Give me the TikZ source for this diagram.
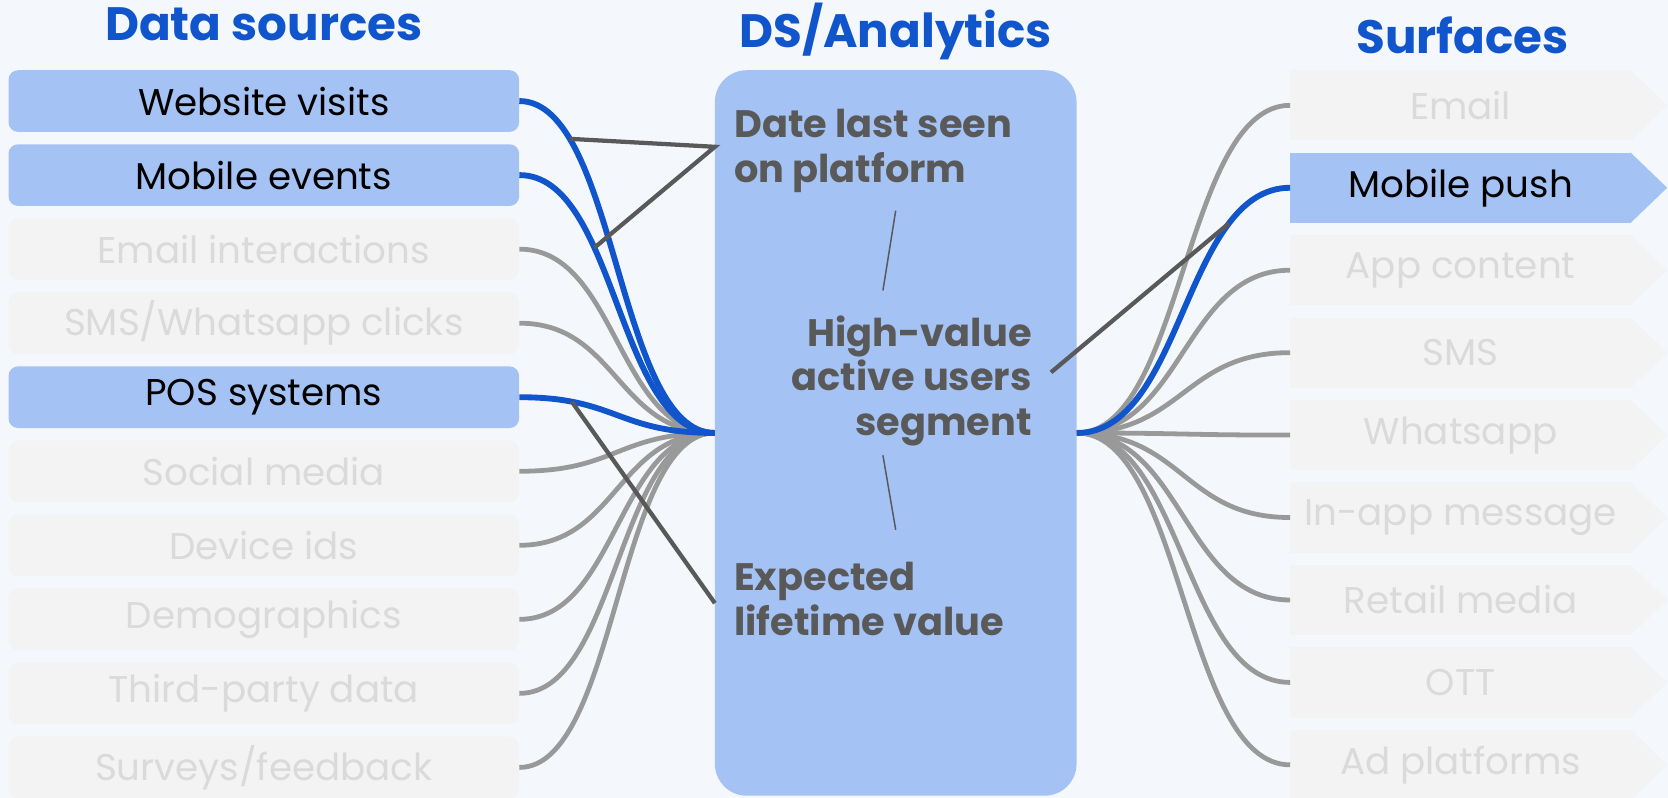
\documentclass[tikz,border=0pt]{standalone}
\usepackage{fontspec}
\setmainfont{Poppins}
\usetikzlibrary{calc}

\definecolor{bgc}{HTML}{F4F8FD}
\definecolor{hl}{HTML}{A4C2F4}
\definecolor{faded}{HTML}{F3F3F3}
\definecolor{fadedtext}{HTML}{DADADA}
\definecolor{accent}{HTML}{1155CC}
\definecolor{wire}{HTML}{999999}
\definecolor{ink}{HTML}{595959}

\tikzset{
  heading/.style={text=accent, font=\fontsize{44}{52}\selectfont\bfseries, inner sep=0pt},
  src/.style={rounded corners=9pt, minimum width=480pt, minimum height=58pt, inner sep=0pt,
              font=\fontsize{35}{40}\selectfont},
  srcon/.style={src, fill=hl, text=black},
  srcoff/.style={src, fill=faded, text=fadedtext},
  surf/.style={minimum width=320pt, minimum height=66pt, inner sep=0pt,
               font=\fontsize{35}{40}\selectfont},
  surfon/.style={surf, fill=hl, text=black},
  surfoff/.style={surf, fill=faded, text=fadedtext},
  core/.style={fill=hl, rounded corners=30pt, minimum width=340pt, minimum height=682pt, inner sep=0pt},
  feature/.style={text=ink, font=\fontsize{36}{42}\selectfont\bfseries, inner sep=0pt},
  graywire/.style={draw=wire, line width=4.5pt},
  bluewire/.style={draw=accent, line width=5.5pt},
  callout/.style={draw=ink, line width=4pt},
  hairline/.style={draw=ink, line width=1.4pt},
}

\begin{document}
\begin{tikzpicture}[x=1pt, y=-1pt]
  % canvas
  \fill[bgc] (0,0) rectangle (1568,750);
  \useasboundingbox (0,0) rectangle (1568,750);

  % column headings
  \node[heading] (hsrc)  at (248,23) {Data sources};
  \node[heading] (hcore) at (842,30) {DS/Analytics};
  \node[heading] (hsurf) at (1375,33) {Surfaces};

  % data sources
  \node[srcon]  (l1)  at (248,95.0)  {Website visits};
  \node[srcon]  (l2)  at (248,164.6) {Mobile events};
  \node[srcoff] (l3)  at (248,234.2) {Email interactions};
  \node[srcoff] (l4)  at (248,303.8) {SMS/Whatsapp clicks};
  \node[srcon]  (l5)  at (248,373.4) {POS systems};
  \node[srcoff] (l6)  at (248,443.0) {Social media};
  \node[srcoff] (l7)  at (248,512.6) {Device ids};
  \node[srcoff] (l8)  at (248,582.2) {Demographics};
  \node[srcoff] (l9)  at (248,651.8) {Third-party data};
  \node[srcoff] (l10) at (248,721.4) {Surveys/feedback};

  % analytics block
  \node[core] (core) at (842,407) {};

  % surfaces
  \node[surfoff] (s1) at (1373,99.0)  {Email};
  \node[surfon]  (s2) at (1373,176.5) {Mobile push};
  \node[surfoff] (s3) at (1373,254.0) {App content};
  \node[surfoff] (s4) at (1373,331.5) {SMS};
  \node[surfoff] (s5) at (1373,409.0) {Whatsapp};
  \node[surfoff] (s6) at (1373,486.5) {In-app message};
  \node[surfoff] (s7) at (1373,564.0) {Retail media};
  \node[surfoff] (s8) at (1373,641.5) {OTT};
  \node[surfoff] (s9) at (1373,719.0) {Ad platforms};
  \foreach \n/\c in {s1/faded,s2/hl,s3/faded,s4/faded,s5/faded,s6/faded,s7/faded,s8/faded,s9/faded}
    \fill[\c] ([xshift=-0.5pt]\n.north east) -- ([xshift=34pt]\n.east) -- ([xshift=-0.5pt]\n.south east) -- cycle;

  % inactive feeds into the analytics block
  \foreach \i in {3,4,6,7,8,9,10}
    \draw[graywire] (l\i.east) .. controls +(92,0) and +(-92,0) .. (core.west);
  % inactive outputs
  \foreach \j in {1,3,4,5,6,7,8,9}
    \draw[graywire] (core.east) .. controls +(100,0) and +(-100,0) .. (s\j.west);

  % active feeds
  \draw[bluewire] (l1.east) .. controls +(92,0) and +(-92,0) .. (core.west) coordinate[pos=0.21] (w1);
  \draw[bluewire] (l2.east) .. controls +(92,0) and +(-92,0) .. (core.west) coordinate[pos=0.35] (w2);
  \draw[bluewire] (l5.east) .. controls +(92,0) and +(-92,0) .. (core.west) coordinate[pos=0.22] (w5);
  % active output
  \draw[bluewire] (core.east) .. controls +(100,0) and +(-100,0) .. (s2.west) coordinate[pos=0.76] (wp);

  % features computed in the analytics block
  \node[feature, align=left, anchor=west] (date) at (690,142) {Date last seen\\on platform};
  \node[feature, align=right, anchor=east] (hv) at (970,358) {High-value\\active users\\segment};
  \node[feature, align=left, anchor=west] (ltv) at (690,563) {Expected\\lifetime value};

  % links between features
  \coordinate (d1) at (842,198);
  \coordinate (d2) at (830,273);
  \coordinate (d3) at (830,428);
  \coordinate (d4) at (842,498);
  \draw[hairline] (d1) -- (d2);
  \draw[hairline] (d3) -- (d4);

  % callouts tying features to sources and surfaces
  \draw[callout] (w1) -- ([xshift=-18pt,yshift=4pt]date.west) -- (w2);
  \draw[callout] (w5) -- ([xshift=-18pt,yshift=-4pt]ltv.west);
  \draw[callout] ([xshift=18pt,yshift=8pt]hv.east) -- (wp);
\end{tikzpicture}
\end{document}
